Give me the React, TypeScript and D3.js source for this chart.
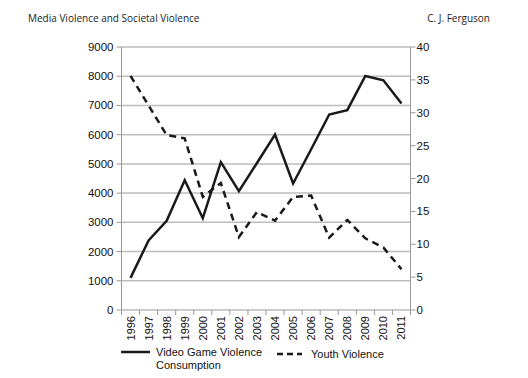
import React from "react";
import * as d3 from "d3";

const years = ["1996","1997","1998","1999","2000","2001","2002","2003","2004","2005","2006","2007","2008","2009","2010","2011"];
const videoGame = [1100, 2380, 3050, 4440, 3140, 5060, 4070, 5030, 6000, 4330, 5500, 6690, 6840, 8010, 7860, 7070];
const youth = [35.6, 31.1, 26.6, 26.1, 17.2, 19.3, 11.1, 14.9, 13.6, 17.2, 17.4, 11.0, 13.7, 10.9, 9.5, 6.2];
const leftTicks = [0, 1000, 2000, 3000, 4000, 5000, 6000, 7000, 8000, 9000];
const rightTicks = [0, 5, 10, 15, 20, 25, 30, 35, 40];

export default function App() {
  const W = 528, H = 378;
  const x0 = 121.5, x1 = 410.5, yTop = 47, yBot = 310;
  const x = d3.scaleBand<string>().domain(years).range([x0, x1]).padding(0);
  const yL = d3.scaleLinear().domain([0, 9000]).range([yBot, yTop]);
  const yR = d3.scaleLinear().domain([0, 40]).range([yBot, yTop]);
  const cx = (d: string) => (x(d) as number) + x.bandwidth() / 2;
  const lineL = d3.line<number>().x((_, i) => cx(years[i])).y((v) => yL(v));
  const lineR = d3.line<number>().x((_, i) => cx(years[i])).y((v) => yR(v));
  const tickFont = "'Liberation Sans', Arial, sans-serif";
  const titleFont = "'Open Sans', 'DejaVu Sans', sans-serif";
  return (
    <svg width={W} height={H} style={{ position: "absolute", left: 0, top: 0, background: "#fff" }}>
      <text x={28} y={22} fontFamily={titleFont} fontSize={10} fill="#222">Media Violence and Societal Violence</text>
      <text x={490} y={22} fontFamily={titleFont} fontSize={10} fill="#222" textAnchor="end">C. J. Ferguson</text>
      {leftTicks.map((t) => (
        <g key={"g" + t}>
          {t > 0 && <line x1={x0} x2={x1} y1={yL(t)} y2={yL(t)} stroke="#bdbdbd" strokeWidth={1.5} />}
          <line x1={x0 - 5} x2={x0} y1={yL(t)} y2={yL(t)} stroke="#999" strokeWidth={1} />
          <text x={x0 - 8} y={yL(t)} dy="0.35em" textAnchor="end" fontFamily={tickFont} fontSize={11.5} fill="#111">{t}</text>
        </g>
      ))}
      {rightTicks.map((t) => (
        <g key={"r" + t}>
          <line x1={x1} x2={x1 + 5} y1={yR(t)} y2={yR(t)} stroke="#999" strokeWidth={1} />
          <text x={x1 + 6} y={yR(t)} dy="0.35em" textAnchor="start" fontFamily={tickFont} fontSize={11.5} fill="#111">{t}</text>
        </g>
      ))}
      <line x1={x0} x2={x0} y1={yTop} y2={yBot} stroke="#999" strokeWidth={1} />
      <line x1={x1} x2={x1} y1={yTop} y2={yBot} stroke="#999" strokeWidth={1} />
      <line x1={x0} x2={x1} y1={yBot} y2={yBot} stroke="#999" strokeWidth={1} />
      {years.concat(["end"]).map((y, i) => {
        const xx = x0 + i * x.bandwidth();
        return <line key={"xt" + i} x1={xx} x2={xx} y1={yBot} y2={yBot + 5} stroke="#999" strokeWidth={1} />;
      })}
      {years.map((y) => (
        <text key={"xl" + y} transform={`translate(${cx(y) + 4},${yBot + 6}) rotate(-90)`} textAnchor="end" fontFamily={tickFont} fontSize={11} fill="#111">{y}</text>
      ))}
      <path d={lineL(videoGame) || ""} fill="none" stroke="#1a1a1a" strokeWidth={2.5} strokeLinejoin="miter" />
      <path d={lineR(youth) || ""} fill="none" stroke="#1a1a1a" strokeWidth={2.5} strokeDasharray="7,5" />
      <line x1={121} x2={150} y1={352} y2={352} stroke="#1a1a1a" strokeWidth={2.5} />
      <text x={156} y={356} fontFamily={tickFont} fontSize={11} fill="#111">Video Game Violence</text>
      <text x={156} y={369} fontFamily={tickFont} fontSize={11} fill="#111">Consumption</text>
      <line x1={277} x2={302} y1={354} y2={354} stroke="#1a1a1a" strokeWidth={2.5} strokeDasharray="6,4" />
      <text x={311} y={358} fontFamily={tickFont} fontSize={11} fill="#111">Youth Violence</text>
    </svg>
  );
}
